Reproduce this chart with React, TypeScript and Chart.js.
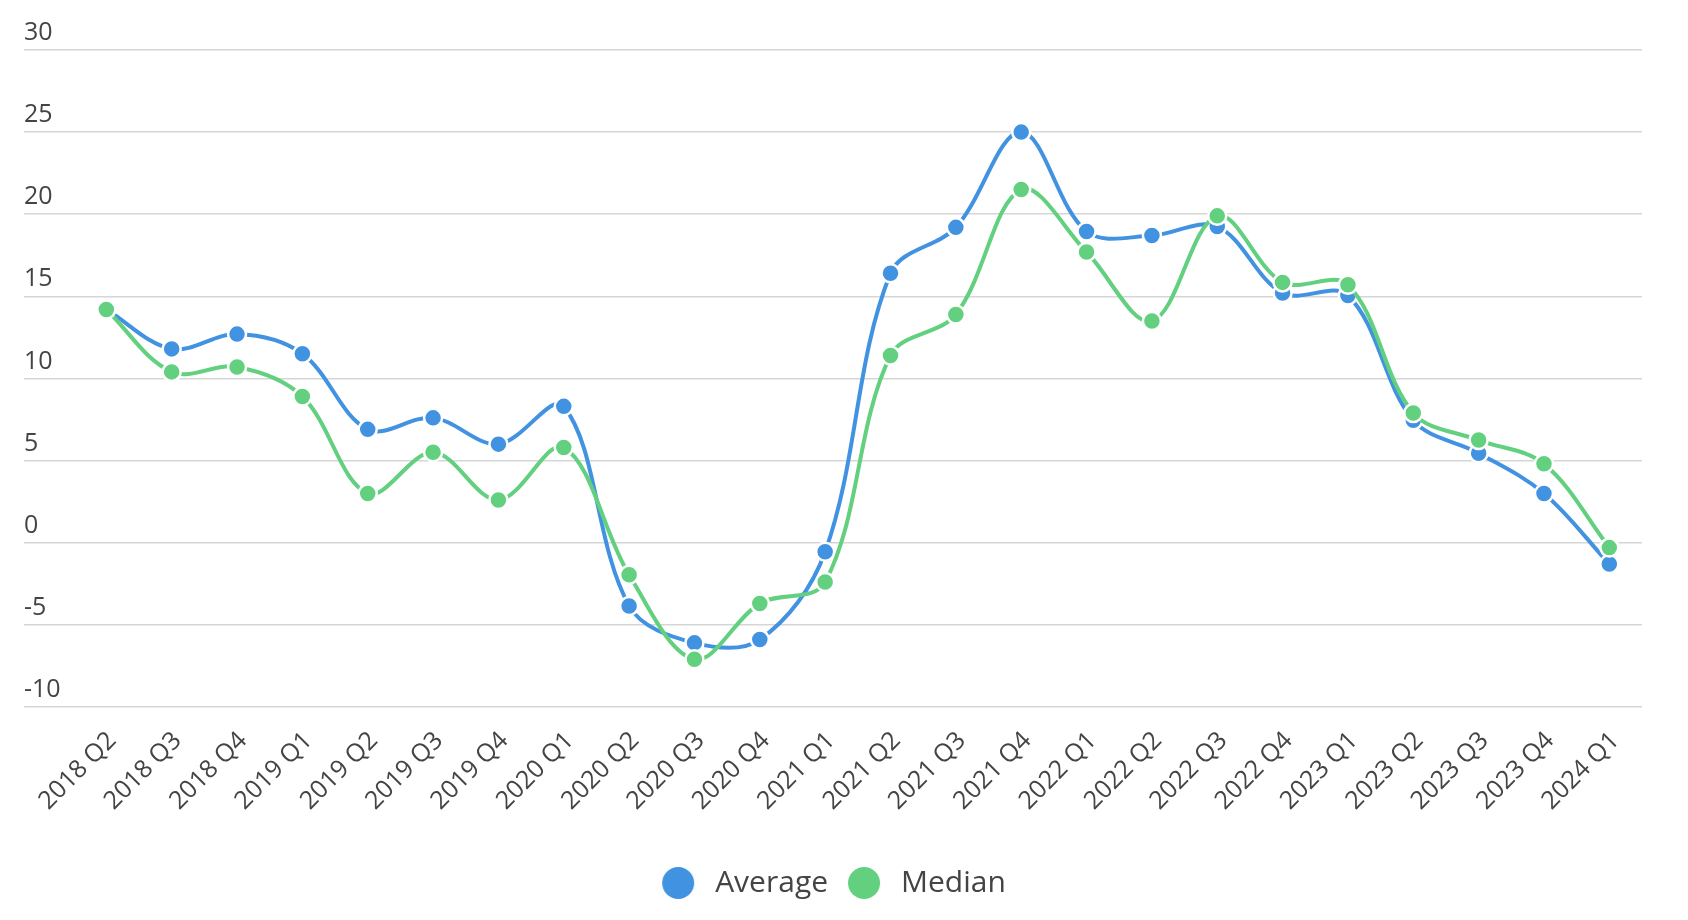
import React, { useEffect, useRef } from "react";
import { Chart, registerables } from "chart.js";

Chart.register(...registerables);

const quarters = [
  "2018 Q2", "2018 Q3", "2018 Q4", "2019 Q1", "2019 Q2", "2019 Q3",
  "2019 Q4", "2020 Q1", "2020 Q2", "2020 Q3", "2020 Q4", "2021 Q1",
  "2021 Q2", "2021 Q3", "2021 Q4", "2022 Q1", "2022 Q2", "2022 Q3",
  "2022 Q4", "2023 Q1", "2023 Q2", "2023 Q3", "2023 Q4", "2024 Q1",
];

const average = [
  14.2, 11.8, 12.7, 11.5, 6.9, 7.6, 6.0, 8.3, -3.85, -6.1, -5.9, -0.55,
  16.4, 19.2, 25.0, 18.95, 18.7, 19.25, 15.2, 15.05, 7.45, 5.45, 3.0, -1.3,
];

const median = [
  14.2, 10.4, 10.7, 8.9, 3.0, 5.5, 2.6, 5.8, -1.95, -7.1, -3.7, -2.4,
  11.4, 13.9, 21.5, 17.7, 13.5, 19.9, 15.85, 15.7, 7.9, 6.25, 4.8, -0.3,
];

const yTicks = [-10, -5, 0, 5, 10, 15, 20, 25, 30];

const BLUE = "#4292e2";
const GREEN = "#62d07f";
const TEXT = "#444444";
const FONT = "'Open Sans', sans-serif";

const toPoints = (values: number[]) => values.map((y, x) => ({ x, y }));

// legend dot drawn a bit left of its box so the text sits further from it
const legendDot = (color: string) => {
  const c = document.createElement("canvas");
  c.width = 48;
  c.height = 34;
  const g = c.getContext("2d")!;
  g.fillStyle = color;
  g.beginPath();
  g.arc(17, 17, 16, 0, Math.PI * 2);
  g.fill();
  return c;
};

const series = (label: string, values: number[], color: string, order: number) => ({
  label,
  data: toPoints(values),
  order,
  borderColor: color,
  backgroundColor: color,
  borderWidth: 4,
  tension: 0.35,
  pointRadius: 9,
  pointHoverRadius: 9,
  pointBorderWidth: 2.5,
  pointBorderColor: "#ffffff",
  pointBackgroundColor: color,
  fill: false,
});

const nudgeLegend = {
  id: "nudgeLegend",
  afterLayout(chart: Chart) {
    if (!chart.legend) return;
    chart.legend.left += 5;
    chart.legend.right += 5;
  },
};

export default function App() {
  const canvasRef = useRef<HTMLCanvasElement>(null);

  useEffect(() => {
    const ctx = canvasRef.current?.getContext("2d");
    if (!ctx) return;
    const dots = [legendDot(BLUE), legendDot(GREEN)];
    const chart = new Chart(ctx, {
      type: "line",
      data: {
        datasets: [
          series("Average", average, BLUE, 2),
          series("Median", median, GREEN, 1),
        ],
      },
      plugins: [nudgeLegend],
      options: {
        responsive: true,
        maintainAspectRatio: false,
        animation: false,
        events: [],
        layout: { padding: { left: 24, right: 46, top: 50, bottom: 12 } },
        plugins: {
          tooltip: { enabled: false },
          legend: {
            position: "bottom",
            labels: {
              usePointStyle: true,
              boxWidth: 30,
              boxHeight: 24,
              padding: 28,
              color: TEXT,
              font: { family: FONT, size: 30 },
              generateLabels: (c) =>
                Chart.defaults.plugins.legend.labels
                  .generateLabels(c)
                  .sort((a, b) => (a.datasetIndex ?? 0) - (b.datasetIndex ?? 0))
                  .map((item) => ({ ...item, pointStyle: dots[item.datasetIndex ?? 0] })),
            },
          },
        },
        scales: {
          x: {
            type: "linear",
            min: -1.26,
            max: 23.5,
            grid: { display: false },
            border: { display: false },
            afterBuildTicks: (axis) => {
              axis.ticks = quarters.map((_, i) => ({ value: i }));
            },
            afterFit: (axis) => {
              axis.height += 13;
            },
            ticks: {
              autoSkip: false,
              maxRotation: 45,
              minRotation: 45,
              padding: 11,
              labelOffset: 6,
              color: TEXT,
              font: { family: FONT, size: 25 },
              callback: (v) => quarters[Number(v)] ?? "",
            },
          },
          y: {
            min: -10,
            max: 30,
            afterBuildTicks: (axis) => {
              axis.ticks = yTicks.map((value) => ({ value }));
            },
            grid: { color: "#d6d6d6", lineWidth: 1.5, drawTicks: false },
            border: { display: false },
            ticks: {
              mirror: true,
              padding: 0,
              labelOffset: -17,
              color: TEXT,
              font: { family: FONT, size: 25 },
            },
          },
        },
      },
    });
    return () => chart.destroy();
  }, []);

  return (
    <div style={{ position: "fixed", left: 0, top: 0, width: 1688, height: 920, background: "#fff" }}>
      <canvas ref={canvasRef} />
    </div>
  );
}
